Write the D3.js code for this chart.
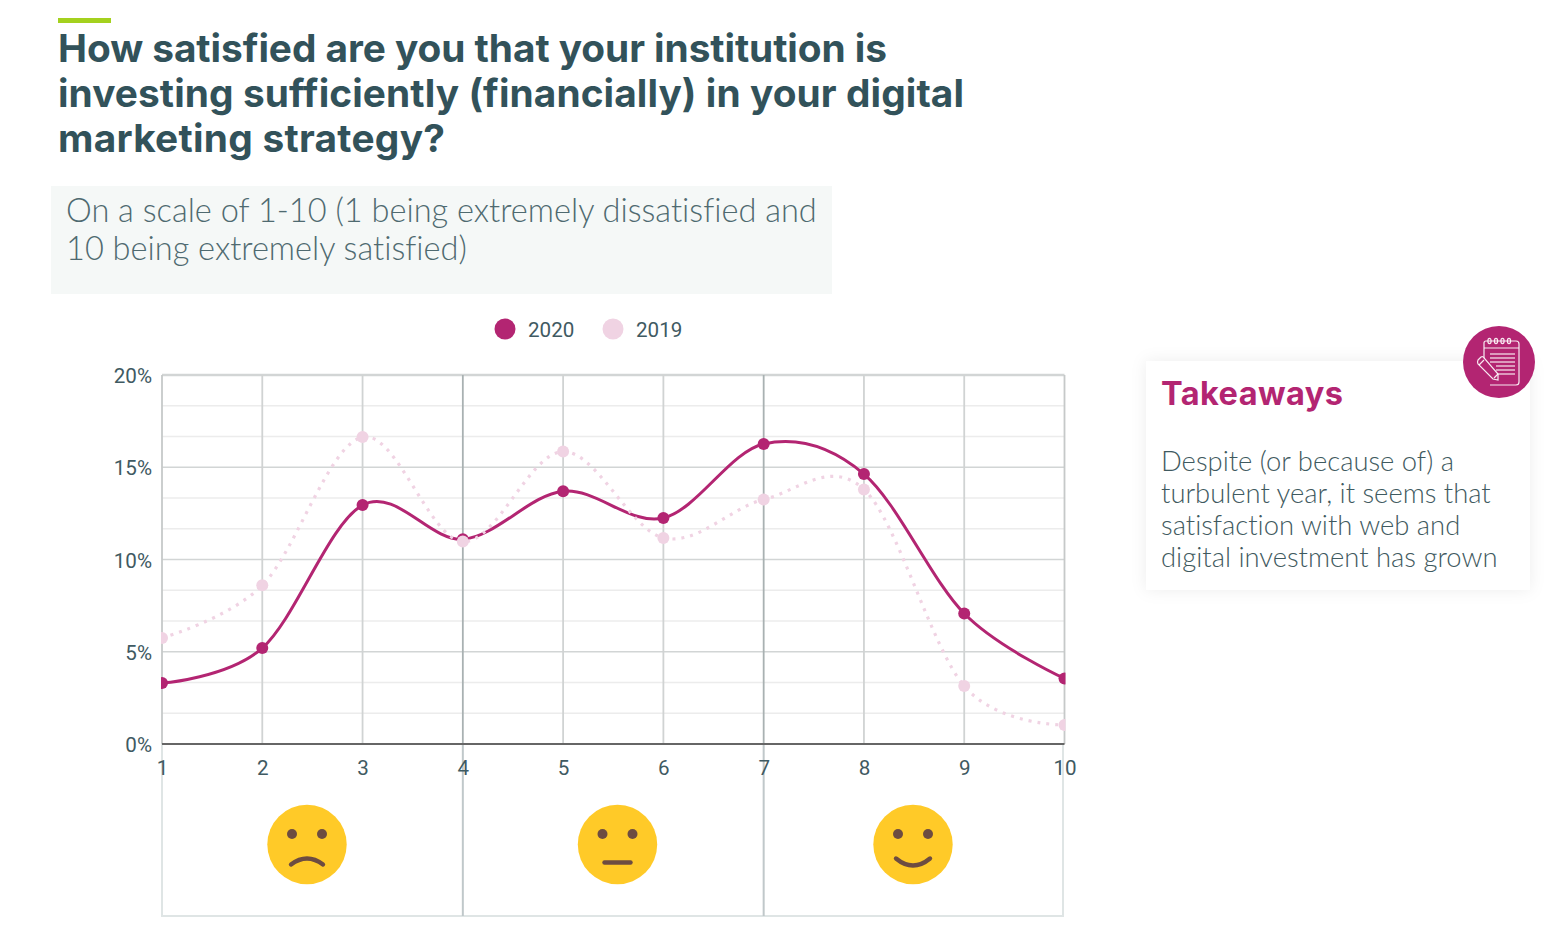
<!DOCTYPE html>
<html>
<head>
<meta charset="utf-8">
<script src="https://cdn.jsdelivr.net/npm/d3@7"></script>
<style>
	html, body { margin: 0; padding: 0; background: #fff; overflow: hidden; }
	svg { display: block; }
	text { font-variant-ligatures: none; }
	.title { font-family: Inter, sans-serif; font-weight: 700; font-size: 38.8px; fill: #32525a; }
	.subtitle { font-family: Lato, sans-serif; font-weight: 300; font-size: 32.55px; fill: #4f6a70; }
	.takeaway { font-family: Lato, sans-serif; font-weight: 300; font-size: 27.4px; fill: #3f5a60; }
	.card-title { font-family: Inter, sans-serif; font-weight: 700; font-size: 32.5px; fill: #b32572; }
	.legend-label, .tick text { font-family: Roboto, sans-serif; font-size: 20.6px; fill: #3f5a62; }
</style>
</head>
<body>
<svg id="viz" width="1560" height="938"></svg>
<script>
const categories = [1, 2, 3, 4, 5, 6, 7, 8, 9, 10];
const values2020 = [3.3, 5.2, 12.95, 11.1, 13.7, 12.25, 16.26, 14.63, 7.07, 3.55];
const values2019 = [5.75, 8.6, 16.64, 10.97, 15.85, 11.17, 13.25, 13.8, 3.14, 1.03];
const majorTicks = [0, 5, 10, 15, 20];
const minorTicks = [1.67, 3.33, 6.67, 8.33, 11.67, 13.33, 16.67, 18.33];
const legendNames = ["2020", "2019"];
const zoneEdges = [1, 4, 7, 10];
const titleLines = ["How satisfied are you that your institution is", "investing sufficiently (financially) in your digital", "marketing strategy?"];
const subtitleLines = ["On a scale of 1-10 (1 being extremely dissatisfied and", "10 being extremely satisfied)"];
const takeawayLines = ["Despite (or because of) a", "turbulent year, it seems that", "satisfaction with web and", "digital investment has grown"];

const color2020 = "#b32572";
const color2019 = "#f0d3e3";

const svg = d3.select("svg#viz");

// header
svg.append("rect").attr("x", 58).attr("y", 18).attr("width", 53).attr("height", 5).attr("fill", "#a4d11e");
svg.selectAll("text.title").data(titleLines).enter().append("text")
	.attr("class", "title")
	.attr("x", 58)
	.attr("y", (d, i) => 61.5 + i * 45)
	.attr("textLength", (d, i) => [829, 906, 387][i])
	.text(d => d);

svg.append("rect").attr("x", 51).attr("y", 186).attr("width", 781).attr("height", 108).attr("fill", "#f5f8f7");
svg.selectAll("text.subtitle").data(subtitleLines).enter().append("text")
	.attr("class", "subtitle")
	.attr("x", 66)
	.attr("y", (d, i) => 222 + i * 38)
	.text(d => d);

// legend
const legendX = [505, 613];
legendNames.forEach(function(name, i) {
	svg.append("circle").attr("cx", legendX[i]).attr("cy", 329).attr("r", 10.5)
		.attr("fill", i == 0 ? color2020 : color2019);
	svg.append("text").attr("class", "legend-label")
		.attr("x", legendX[i] + 23).attr("y", 336.5)
		.text(name);
});

// scales
const xScale = d3.scaleLinear().domain([1, 10]).range([162, 1064.5]);
const yScale = d3.scaleLinear().domain([0, 20]).range([744, 375]);

// box under the chart with the sentiment zones
const zones = svg.append("g").attr("id", "zones");
zones.append("path")
	.attr("d", `M${xScale(1)},744V916H${xScale(10) - 1.5}V744`)
	.attr("fill", "none").attr("stroke", "#dfe5e5").attr("stroke-width", 2);

// grid
const grid = svg.append("g").attr("id", "grid");
grid.selectAll("line.minor").data(minorTicks).enter().append("line")
	.attr("class", "minor")
	.attr("x1", xScale(1)).attr("x2", xScale(10))
	.attr("y1", d => yScale(d)).attr("y2", d => yScale(d))
	.attr("stroke", "#ececec").attr("stroke-width", 1.6);
grid.selectAll("line.major").data(majorTicks.slice(1)).enter().append("line")
	.attr("class", "major")
	.attr("x1", xScale(1)).attr("x2", xScale(10))
	.attr("y1", d => yScale(d)).attr("y2", d => yScale(d))
	.attr("stroke", "#d2d5d5").attr("stroke-width", d => d == 20 ? 2.6 : 1.6);
grid.selectAll("line.vert").data(categories).enter().append("line")
	.attr("class", "vert")
	.attr("x1", d => xScale(d)).attr("x2", d => xScale(d))
	.attr("y1", yScale(20)).attr("y2", yScale(0))
	.attr("stroke", d => (d == 4 || d == 7) ? "#a9b1b2" : (d == 1 || d == 10) ? "#c6c9c9" : "#d0d3d3")
	.attr("stroke-width", 1.8);

// zone dividers run down past the axis
zones.raise();
zones.selectAll("line").data(zoneEdges.slice(1, 3)).enter().append("line")
	.attr("x1", d => xScale(d)).attr("x2", d => xScale(d))
	.attr("y1", 744).attr("y2", 916)
	.attr("stroke", "#c0c8ca").attr("stroke-width", 2);

// axes
const xAxis = d3.axisBottom(xScale).tickValues(categories).tickSize(0).tickPadding(16).tickFormat(d => d);
const xGroup = svg.append("g").attr("transform", "translate(0,744)").call(xAxis);
xGroup.select(".domain").remove();

const yAxis = d3.axisLeft(yScale).tickValues(majorTicks).tickSize(0).tickPadding(10).tickFormat(d => d + "%");
const yGroup = svg.append("g").attr("transform", "translate(162,1)").call(yAxis);
yGroup.select(".domain").remove();

svg.append("line")
	.attr("x1", xScale(1)).attr("x2", xScale(10))
	.attr("y1", yScale(0)).attr("y2", yScale(0))
	.attr("stroke", "#666").attr("stroke-width", 2);

// lines and points, clipped at the plot edge
svg.append("clipPath").attr("id", "plot-clip").append("rect")
	.attr("x", xScale(1) - 1).attr("y", 370)
	.attr("width", xScale(10) - xScale(1) + 2).attr("height", 376);
const plot = svg.append("g").attr("clip-path", "url(#plot-clip)");

const line = d3.line()
	.x((d, i) => xScale(categories[i]))
	.y(d => yScale(d))
	.curve(d3.curveCardinal.tension(0));

function drawSeries(values, color, dashed) {
	plot.append("path")
		.attr("d", line(values))
		.attr("fill", "none")
		.attr("stroke", color)
		.attr("stroke-width", dashed ? 3.2 : 3)
		.attr("stroke-dasharray", dashed ? "3,6" : null);
	plot.selectAll(null).data(values).enter().append("circle")
		.attr("cx", (d, i) => xScale(categories[i]))
		.attr("cy", d => yScale(d))
		.attr("r", 6)
		.attr("fill", color);
}
drawSeries(values2020, color2020, false);
drawSeries(values2019, color2019, true);

// faces
function drawFace(cx, cy, mouth) {
	const g = svg.append("g").attr("transform", `translate(${cx},${cy})`);
	g.append("circle").attr("r", 39.7).attr("fill", "#ffca28");
	g.append("circle").attr("cx", -15).attr("cy", -10.5).attr("r", 5).attr("fill", "#6d4c41");
	g.append("circle").attr("cx", 15).attr("cy", -10.5).attr("r", 5).attr("fill", "#6d4c41");
	g.append("path").attr("d", mouth).attr("fill", "none")
		.attr("stroke", "#6d4c41").attr("stroke-width", 4.4).attr("stroke-linecap", "round");
}
drawFace(307, 844.5, "M-16,20Q0,8 16,20");
drawFace(617.5, 844.5, "M-13,18H13");
drawFace(913, 844.5, "M-17,14Q0,28 17,14");

// takeaways card
svg.append("defs").append("filter").attr("id", "soft")
	.attr("x", "-10%").attr("y", "-15%").attr("width", "120%").attr("height", "130%")
	.append("feDropShadow")
	.attr("dx", 0).attr("dy", 0).attr("stdDeviation", 8)
	.attr("flood-color", "#000").attr("flood-opacity", 0.07);
svg.append("rect").attr("x", 1146).attr("y", 361).attr("width", 384).attr("height", 229)
	.attr("fill", "#fff").attr("filter", "url(#soft)");
svg.append("text").attr("class", "card-title").attr("x", 1161).attr("y", 405)
	.attr("textLength", 182).text("Takeaways");
svg.selectAll("text.takeaway").data(takeawayLines).enter().append("text")
	.attr("class", "takeaway")
	.attr("x", 1161)
	.attr("y", (d, i) => 471 + i * 32)
	.text(d => d);

// notebook badge
const badge = svg.append("g").attr("transform", "translate(1499,362)");
badge.append("circle").attr("r", 36).attr("fill", color2020);
const pen = badge.append("g").attr("fill", "none").attr("stroke", "#fff").attr("stroke-width", 1.2).attr("stroke-opacity", 0.9);
pen.append("path").attr("d", "M-15,4V-19Q-15,-21 -13,-21H17Q20,-21 20,-18V20Q20,23 17,23H-9");
pen.append("path").attr("d", "M-15,-14H20");
[-10, -3.5, 3, 9.5].forEach(function(dx) {
	pen.append("ellipse").attr("cx", dx + 0.5).attr("cy", -21).attr("rx", 1.6).attr("ry", 2.6);
});
[-8, -4, 0, 4, 8, 12].forEach(function(dy, i) {
	pen.append("line").attr("x1", i > 2 ? -3 : -9).attr("x2", 16).attr("y1", dy).attr("y2", dy);
});
pen.append("path").attr("d", "M-21,-2L-18,-5Q-16,-6 -15,-4L-1,12L-1,18L-6,17L-21,2Q-22,0 -21,-2Z").attr("fill", color2020);
pen.append("path").attr("d", "M-20,3L-15,-2M-5,16L-1,12");
</script>
</body>
</html>
